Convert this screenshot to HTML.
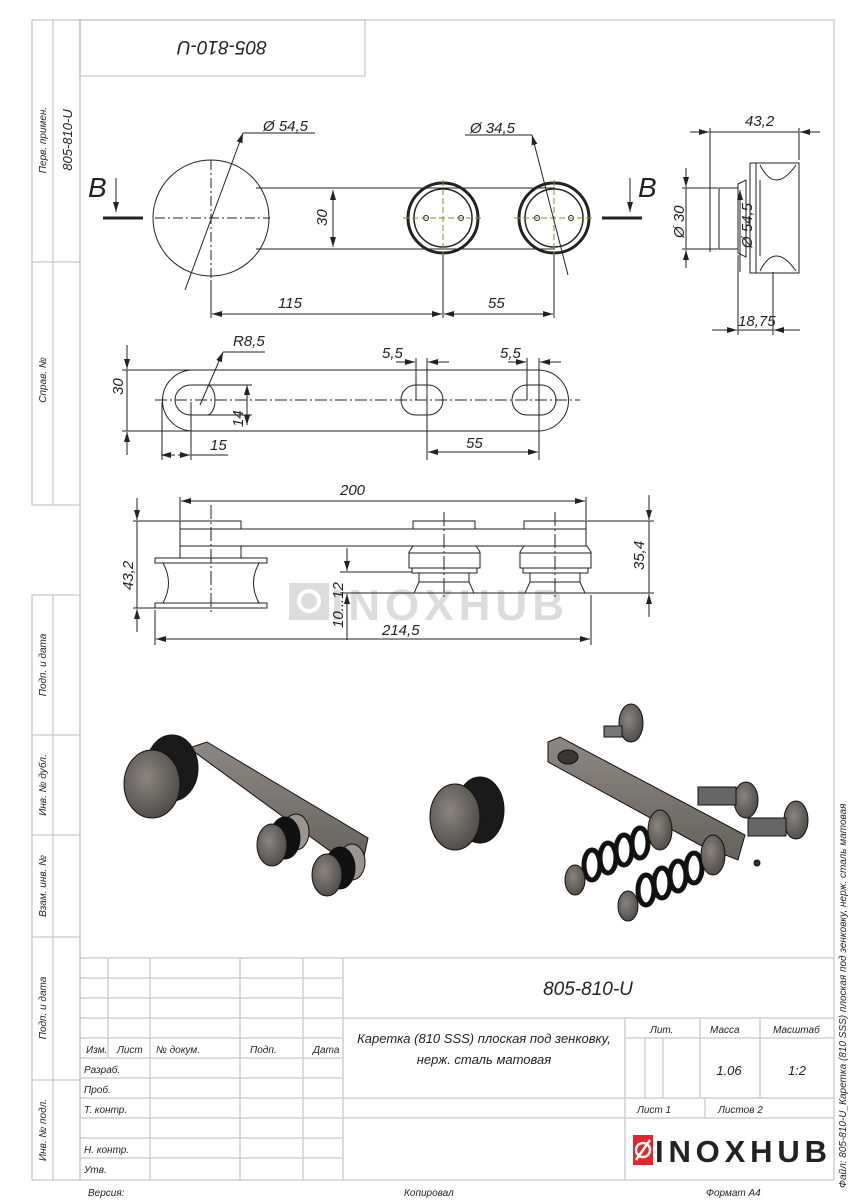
<!DOCTYPE html>
<html><head><meta charset="utf-8"><style>
html,body{margin:0;padding:0;background:#fff;width:850px;height:1200px;overflow:hidden}
svg{display:block}
text{font-family:"Liberation Sans","DejaVu Sans",sans-serif;font-style:italic;fill:#222}
</style></head><body>
<svg width="850" height="1200" viewBox="0 0 850 1200" xmlns="http://www.w3.org/2000/svg">
<defs>
<marker id="a" viewBox="0 0 10 6" refX="10" refY="3" markerWidth="10" markerHeight="6" orient="auto-start-reverse"><path d="M0,0 L10,3 L0,6 z" fill="#222"/></marker>
<radialGradient id="m" cx="40%" cy="40%" r="70%"><stop offset="0" stop-color="#8a8580"/><stop offset="1" stop-color="#4a4643"/></radialGradient>
<linearGradient id="bar" x1="0" y1="0" x2="0" y2="1"><stop offset="0" stop-color="#8d8883"/><stop offset="1" stop-color="#65615d"/></linearGradient>
</defs>
<!-- frame -->
<g fill="none" stroke="#c8c8c8" stroke-width="1.3">
<rect x="80" y="20" width="754" height="1160"/>
<rect x="80" y="20" width="285" height="56"/>
<rect x="32" y="20" width="48" height="485"/>
<line x1="53" y1="20" x2="53" y2="505"/>
<line x1="32" y1="262" x2="80" y2="262"/>
<rect x="32" y="595" width="48" height="585"/>
<line x1="53" y1="595" x2="53" y2="1180"/>
<line x1="32" y1="735" x2="80" y2="735"/>
<line x1="32" y1="835" x2="80" y2="835"/>
<line x1="32" y1="937" x2="80" y2="937"/>
<line x1="32" y1="1080" x2="80" y2="1080"/>
<line x1="80" y1="958" x2="834" y2="958"/>
<line x1="80" y1="978" x2="343" y2="978"/>
<line x1="80" y1="998" x2="343" y2="998"/>
<line x1="80" y1="1018" x2="834" y2="1018"/>
<line x1="80" y1="1038" x2="343" y2="1038"/>
<line x1="625" y1="1038" x2="834" y2="1038"/>
<line x1="80" y1="1058" x2="343" y2="1058"/>
<line x1="80" y1="1078" x2="343" y2="1078"/>
<line x1="80" y1="1098" x2="834" y2="1098"/>
<line x1="80" y1="1118" x2="834" y2="1118"/>
<line x1="80" y1="1138" x2="343" y2="1138"/>
<line x1="80" y1="1158" x2="343" y2="1158"/>
<line x1="108" y1="958" x2="108" y2="1058"/>
<line x1="150" y1="958" x2="150" y2="1180"/>
<line x1="240" y1="958" x2="240" y2="1180"/>
<line x1="303" y1="958" x2="303" y2="1180"/>
<line x1="343" y1="958" x2="343" y2="1180"/>
<line x1="625" y1="1018" x2="625" y2="1180"/>
<line x1="645" y1="1038" x2="645" y2="1098"/>
<line x1="663" y1="1038" x2="663" y2="1098"/>
<line x1="700" y1="1018" x2="700" y2="1098"/>
<line x1="760" y1="1018" x2="760" y2="1098"/>
<line x1="705" y1="1098" x2="705" y2="1118"/>
</g>
<text x="222" y="55" font-size="19" text-anchor="middle" transform="rotate(180 222 48)">805-810-U</text>
<g font-size="10">
<text transform="translate(46 140) rotate(-90)" text-anchor="middle">Перв. примен.</text>
<text transform="translate(72 140) rotate(-90)" text-anchor="middle" font-size="13">805-810-U</text>
<text transform="translate(46 380) rotate(-90)" text-anchor="middle">Справ. №</text>
<text transform="translate(46 665) rotate(-90)" text-anchor="middle">Подп. и дата</text>
<text transform="translate(46 785) rotate(-90)" text-anchor="middle">Инв. № дубл.</text>
<text transform="translate(46 886) rotate(-90)" text-anchor="middle">Взам. инв. №</text>
<text transform="translate(46 1008) rotate(-90)" text-anchor="middle">Подп. и дата</text>
<text transform="translate(46 1130) rotate(-90)" text-anchor="middle">Инв. № подл.</text>
<text transform="translate(846 1188) rotate(-90)">Файл: 805-810-U_Каретка (810 SSS) плоская под зенковку, нерж. сталь матовая</text>
<text x="86" y="1053">Изм.</text><text x="117" y="1053">Лист</text><text x="156" y="1053">№ докум.</text><text x="250" y="1053">Подп.</text><text x="313" y="1053">Дата</text>
<text x="84" y="1073">Разраб.</text><text x="84" y="1093">Проб.</text><text x="84" y="1113">Т. контр.</text>
<text x="84" y="1153">Н. контр.</text><text x="84" y="1173">Утв.</text>
<text x="650" y="1033">Лит.</text><text x="710" y="1033">Масса</text><text x="773" y="1033">Масштаб</text>
<text x="637" y="1113">Лист 1</text><text x="718" y="1113">Листов 2</text>
<text x="88" y="1196">Версия:</text><text x="404" y="1196">Копировал</text><text x="706" y="1196">Формат А4</text>
</g>
<text x="588" y="995" font-size="19" text-anchor="middle">805-810-U</text>
<text x="484" y="1043" font-size="13" text-anchor="middle">Каретка (810 SSS) плоская под зенковку,</text>
<text x="484" y="1064" font-size="13" text-anchor="middle">нерж. сталь матовая</text>
<text x="729" y="1075" font-size="13" text-anchor="middle">1.06</text>
<text x="797" y="1075" font-size="13" text-anchor="middle">1:2</text>
<!-- logo -->
<rect x="633" y="1135" width="20" height="30" fill="#e3262b"/>
<circle cx="643" cy="1150" r="7" fill="none" stroke="#fff" stroke-width="2.5"/>
<line x1="636" y1="1160" x2="650" y2="1140" stroke="#fff" stroke-width="2.5"/>
<text x="655" y="1162" font-size="31" font-weight="bold" style="font-style:normal;fill:#222" textLength="172">INOXHUB</text>
<!-- watermark -->
<rect x="289" y="583" width="40" height="37" fill="#dcdcdc"/>
<circle cx="309" cy="601" r="10" fill="none" stroke="#fff" stroke-width="4"/>
<text x="331" y="620" font-size="44" font-weight="bold" style="font-style:normal;fill:#dcdcdc" textLength="233">INOXHUB</text>
<g fill="none" stroke="#222" stroke-width="1">
<circle cx="211" cy="218" r="58"/>
<line x1="256" y1="188" x2="555" y2="188"/><line x1="256" y1="249" x2="555" y2="249"/>
<circle cx="443" cy="218" r="35" stroke-width="3"/><circle cx="443" cy="218" r="29" stroke-width="1.5"/>
<circle cx="554" cy="218" r="35" stroke-width="3"/><circle cx="554" cy="218" r="29" stroke-width="1.5"/>
<circle cx="426" cy="218" r="2.5"/><circle cx="461" cy="218" r="2.5"/>
<circle cx="537" cy="218" r="2.5"/><circle cx="571" cy="218" r="2.5"/>
<line x1="155" y1="218" x2="270" y2="218" stroke-dasharray="10 3 2 3"/>
<line x1="211" y1="160" x2="211" y2="290" stroke-dasharray="10 3 2 3"/>
<line x1="403" y1="218" x2="483" y2="218" stroke="#8a8a30" stroke-dasharray="6 3"/>
<line x1="514" y1="218" x2="594" y2="218" stroke="#8a8a30" stroke-dasharray="6 3"/>
<line x1="443" y1="180" x2="443" y2="258" stroke="#8a8a30" stroke-dasharray="6 3"/>
<line x1="554" y1="180" x2="554" y2="258" stroke="#8a8a30" stroke-dasharray="6 3"/>
<line x1="185" y1="290" x2="243" y2="133" marker-end="url(#a)"/><line x1="243" y1="133" x2="315" y2="133"/>
<line x1="568" y1="275" x2="532" y2="135" marker-end="url(#a)"/><line x1="532" y1="135" x2="465" y2="135"/>
<line x1="333" y1="190" x2="333" y2="247" marker-start="url(#a)" marker-end="url(#a)"/>
<line x1="211" y1="280" x2="211" y2="318"/><line x1="443" y1="255" x2="443" y2="318"/><line x1="554" y1="255" x2="554" y2="318"/>
<line x1="212" y1="314" x2="442" y2="314" marker-start="url(#a)" marker-end="url(#a)"/>
<line x1="444" y1="314" x2="553" y2="314" marker-start="url(#a)" marker-end="url(#a)"/>
<line x1="116" y1="178" x2="116" y2="212" marker-end="url(#a)"/><line x1="630" y1="178" x2="630" y2="212" marker-end="url(#a)"/>
</g>
<line x1="103" y1="218" x2="143" y2="218" stroke="#222" stroke-width="3"/>
<line x1="602" y1="218" x2="642" y2="218" stroke="#222" stroke-width="3"/>
<text x="88" y="197" font-size="28">B</text><text x="638" y="197" font-size="28">B</text>
<g font-size="15">
<text x="263" y="131">Ø 54,5</text><text x="470" y="133">Ø 34,5</text>
<text transform="translate(327 226) rotate(-90)">30</text>
<text x="278" y="308">115</text><text x="488" y="308">55</text>
</g>
<g fill="none" stroke="#222" stroke-width="1">
<rect x="719" y="188" width="19" height="61"/>
<path d="M738 184 L746 180 L746 257 L738 253 z"/>
<rect x="750" y="163" width="49" height="110"/>
<line x1="756" y1="163" x2="756" y2="273"/>
<path d="M760 165 Q775 195 796 165"/><path d="M760 271 Q775 241 796 271"/>
<line x1="760" y1="180" x2="760" y2="256"/>
<line x1="710" y1="128" x2="710" y2="252"/><line x1="799" y1="128" x2="799" y2="160"/>
<line x1="690" y1="132" x2="709" y2="132" marker-end="url(#a)"/><line x1="710" y1="132" x2="799" y2="132"/><line x1="820" y1="132" x2="800" y2="132" marker-end="url(#a)"/>
<line x1="682" y1="188" x2="718" y2="188"/><line x1="682" y1="249" x2="718" y2="249"/>
<line x1="686" y1="168" x2="686" y2="187" marker-end="url(#a)"/><line x1="686" y1="250" x2="686" y2="268" marker-start="url(#a)"/><line x1="686" y1="188" x2="686" y2="249"/>
<line x1="740" y1="190" x2="740" y2="272" marker-start="url(#a)"/>
<line x1="738" y1="255" x2="738" y2="335"/><line x1="773" y1="272" x2="773" y2="335"/>
<line x1="712" y1="330" x2="737" y2="330" marker-end="url(#a)"/><line x1="738" y1="330" x2="773" y2="330"/><line x1="800" y1="330" x2="774" y2="330" marker-end="url(#a)"/>
</g>
<g font-size="15">
<text x="745" y="126">43,2</text>
<text transform="translate(684 238) rotate(-90)">Ø 30</text>
<text transform="translate(752 248) rotate(-90)">Ø 54,5</text>
<text x="738" y="326">18,75</text>
</g>
<g fill="none" stroke="#222" stroke-width="1">
<path d="M193 370 L538 370 A30.5 30.5 0 0 1 538 431 L193 431 A30.5 30.5 0 0 1 193 370 z"/>
<path d="M191 385 L207 385 A8 15 0 0 1 207 415 L191 415 A16 15 0 0 1 191 385 z"/>
<rect x="401" y="385" width="42" height="30" rx="15"/>
<rect x="512" y="385" width="44" height="30" rx="15"/>
<line x1="155" y1="400" x2="580" y2="400" stroke-dasharray="12 3 2 3"/>
<line x1="122" y1="370" x2="190" y2="370"/><line x1="122" y1="431" x2="190" y2="431"/>
<line x1="127" y1="345" x2="127" y2="369" marker-end="url(#a)"/><line x1="127" y1="432" x2="127" y2="455" marker-start="url(#a)"/><line x1="127" y1="370" x2="127" y2="431"/>
<line x1="207" y1="385" x2="252" y2="385"/><line x1="207" y1="415" x2="252" y2="415"/>
<line x1="247" y1="385" x2="247" y2="425" marker-start="url(#a)" marker-end="url(#a)"/>
<line x1="200" y1="405" x2="223" y2="352" marker-end="url(#a)"/><line x1="223" y1="352" x2="265" y2="352"/>
<line x1="162" y1="402" x2="162" y2="460"/><line x1="191" y1="402" x2="191" y2="460"/>
<line x1="175" y1="455" x2="161" y2="455" marker-end="url(#a)"/><line x1="178" y1="455" x2="190" y2="455" marker-end="url(#a)"/><line x1="191" y1="455" x2="228" y2="455"/>
<line x1="416" y1="358" x2="416" y2="400"/><line x1="427" y1="358" x2="427" y2="460"/>
<line x1="396" y1="362" x2="415" y2="362" marker-end="url(#a)"/><line x1="449" y1="362" x2="428" y2="362" marker-end="url(#a)"/>
<line x1="527" y1="358" x2="527" y2="400"/><line x1="539" y1="358" x2="539" y2="460"/>
<line x1="508" y1="362" x2="526" y2="362" marker-end="url(#a)"/><line x1="561" y1="362" x2="540" y2="362" marker-end="url(#a)"/>
<line x1="428" y1="452" x2="538" y2="452" marker-start="url(#a)" marker-end="url(#a)"/>
</g>
<g font-size="15">
<text x="233" y="346">R8,5</text><text x="382" y="358">5,5</text><text x="500" y="358">5,5</text>
<text transform="translate(123 395) rotate(-90)">30</text>
<text transform="translate(243 427) rotate(-90)">14</text>
<text x="210" y="450">15</text><text x="466" y="448">55</text>
</g>
<g fill="none" stroke="#222" stroke-width="1">
<rect x="180" y="521" width="61" height="8"/><rect x="413" y="521" width="62" height="8"/><rect x="524" y="521" width="62" height="8"/>
<rect x="180" y="529" width="406" height="17"/>
<rect x="180" y="546" width="61" height="12"/>
<path d="M155 558 L267 558 L267 563 L259 563 Q248 583 259 603 L267 603 L267 608 L155 608 L155 603 L163 603 Q174 583 163 563 L155 563 z"/>
<line x1="163" y1="563" x2="259" y2="563"/><line x1="163" y1="603" x2="259" y2="603"/>
<path d="M413 546 L476 546 L480 552 L480 568 L409 568 L409 552 z"/><line x1="409" y1="553" x2="480" y2="553"/>
<rect x="412" y="568" width="65" height="5"/><rect x="419" y="573" width="50" height="9"/>
<path d="M419 582 L469 582 L474 593 L414 593 z"/>
<path d="M524 546 L587 546 L591 552 L591 568 L520 568 L520 552 z"/><line x1="520" y1="553" x2="591" y2="553"/>
<rect x="523" y="568" width="65" height="5"/><rect x="530" y="573" width="50" height="9"/>
<path d="M530 582 L580 582 L585 593 L525 593 z"/>
<line x1="211" y1="505" x2="211" y2="615" stroke-dasharray="14 3 2 3"/>
<line x1="444" y1="512" x2="444" y2="600" stroke-dasharray="14 3 2 3"/>
<line x1="555" y1="512" x2="555" y2="600" stroke-dasharray="14 3 2 3"/>
<line x1="180" y1="497" x2="180" y2="520"/><line x1="586" y1="497" x2="586" y2="520"/>
<line x1="181" y1="501" x2="585" y2="501" marker-start="url(#a)" marker-end="url(#a)"/>
<line x1="133" y1="521" x2="180" y2="521"/><line x1="133" y1="608" x2="155" y2="608"/>
<line x1="137" y1="498" x2="137" y2="520" marker-end="url(#a)"/><line x1="137" y1="609" x2="137" y2="632" marker-start="url(#a)"/><line x1="137" y1="521" x2="137" y2="608"/>
<line x1="586" y1="521" x2="654" y2="521"/><line x1="474" y1="593" x2="654" y2="593"/>
<line x1="649" y1="495" x2="649" y2="520" marker-end="url(#a)"/><line x1="649" y1="594" x2="649" y2="617" marker-start="url(#a)"/><line x1="649" y1="521" x2="649" y2="593"/>
<line x1="340" y1="572" x2="412" y2="572"/><line x1="340" y1="593" x2="414" y2="593"/>
<line x1="347" y1="548" x2="347" y2="571" marker-end="url(#a)"/><line x1="347" y1="594" x2="347" y2="640" marker-start="url(#a)"/>
<line x1="155" y1="610" x2="155" y2="645"/><line x1="591" y1="595" x2="591" y2="645"/>
<line x1="156" y1="639" x2="590" y2="639" marker-start="url(#a)" marker-end="url(#a)"/>
</g>
<g font-size="15">
<text x="340" y="495">200</text>
<text transform="translate(133 590) rotate(-90)">43,2</text>
<text transform="translate(644 570) rotate(-90)">35,4</text>
<text transform="translate(343 628) rotate(-90)">10...12</text>
<text x="382" y="635">214,5</text>
</g>
<g stroke="#111" stroke-width="1">
<path d="M189 748 L207 742 L368 838 L362 866 L345 862 Z" fill="url(#bar)"/>
<ellipse cx="172" cy="768" rx="26" ry="33" fill="#1a1a1a"/>
<ellipse cx="152" cy="784" rx="28" ry="34" fill="url(#m)"/>
<ellipse cx="296" cy="832" rx="13" ry="18" fill="#9a9590"/>
<ellipse cx="285" cy="838" rx="15" ry="21" fill="#111"/>
<ellipse cx="272" cy="845" rx="15" ry="21" fill="url(#m)"/>
<ellipse cx="352" cy="862" rx="13" ry="18" fill="#9a9590"/>
<ellipse cx="340" cy="868" rx="15" ry="21" fill="#111"/>
<ellipse cx="327" cy="875" rx="15" ry="21" fill="url(#m)"/>
<ellipse cx="480" cy="810" rx="24" ry="33" fill="#1a1a1a"/>
<ellipse cx="455" cy="817" rx="25" ry="33" fill="url(#m)"/>
<path d="M548 742 L560 737 L745 835 L738 860 L700 845 L548 762 Z" fill="url(#bar)"/>
<ellipse cx="568" cy="757" rx="10" ry="7" fill="#3a3836"/>
<ellipse cx="631" cy="723" rx="12" ry="19" fill="url(#m)"/>
<rect x="604" y="726" width="18" height="11" fill="#777"/>
<ellipse cx="746" cy="800" rx="12" ry="18" fill="url(#m)"/>
<rect x="698" y="787" width="38" height="18" fill="#666"/>
<ellipse cx="796" cy="820" rx="12" ry="19" fill="url(#m)"/>
<rect x="748" y="818" width="38" height="18" fill="#666"/>
<ellipse cx="757" cy="863" rx="3" ry="3" fill="#333"/>
<g fill="none" stroke="#111" stroke-width="5">
<ellipse cx="592" cy="865" rx="8" ry="15"/><ellipse cx="608" cy="858" rx="8" ry="15"/><ellipse cx="624" cy="850" rx="8" ry="15"/><ellipse cx="640" cy="843" rx="8" ry="15"/>
<ellipse cx="646" cy="890" rx="8" ry="15"/><ellipse cx="662" cy="883" rx="8" ry="15"/><ellipse cx="678" cy="876" rx="8" ry="15"/><ellipse cx="694" cy="868" rx="8" ry="15"/>
</g>
<ellipse cx="660" cy="830" rx="12" ry="20" fill="url(#m)"/>
<ellipse cx="713" cy="855" rx="12" ry="20" fill="url(#m)"/>
<ellipse cx="575" cy="880" rx="10" ry="15" fill="url(#m)"/>
<ellipse cx="628" cy="906" rx="10" ry="15" fill="url(#m)"/>
</g>
</svg>
</body></html>
